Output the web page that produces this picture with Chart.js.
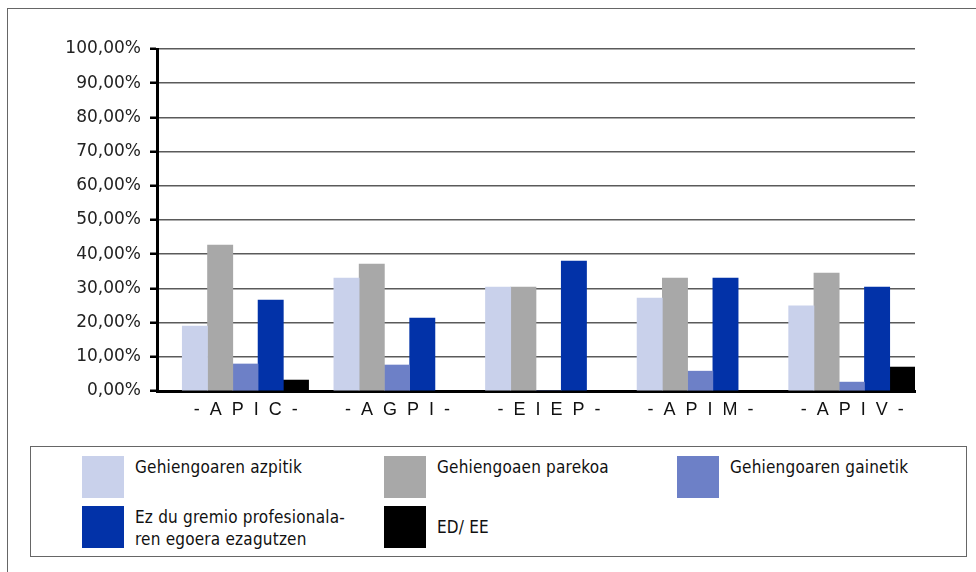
<!DOCTYPE html>
<html>
<head>
<meta charset="utf-8">
<script src="https://cdn.jsdelivr.net/npm/chart.js@4.4.1/dist/chart.umd.min.js"></script>
<style>
  body { margin: 0; background: #fff; overflow: hidden; width: 976px; height: 572px; }
  #frame { position: absolute; left: 7px; top: 8px; width: 1200px; height: 800px;
           border-left: 1px solid #666; border-top: 1px solid #666; }
  #chart { position: absolute; left: 0; top: 0; }
  #legend { position: absolute; left: 30px; top: 446px;
            border: 1px solid #666; box-sizing: content-box;
            display: grid; grid-template-columns: 302px 293px 293px; grid-auto-rows: 42px;
            row-gap: 8px; }
  .item { display: flex; align-items: flex-start;
          font-family: "DejaVu Sans Condensed", "DejaVu Sans", sans-serif; font-size: 17px;
          letter-spacing: 0.2px; color: #111; line-height: 22px; }
  .item.mid { align-items: center; }
  .sw { width: 42px; height: 42px; flex: none; margin-right: 11px; }
</style>
</head>
<body>
<div id="frame"></div>
<canvas id="chart" width="976" height="440"></canvas>
<div id="legend"></div>
<script>
var categories = ['-  A  P  I  C  -', '-  A  G  P  I  -', '-  E  I  E  P  -', '-  A  P  I  M  -', '-  A  P  I  V  -']

var seriesNames = ['Gehiengoaren azpitik', 'Gehiengoaen parekoa', 'Gehiengoaren gainetik',
                   'Ez du gremio profesionala-\nren egoera ezagutzen', 'ED/ EE']
var seriesColors = ['#c9d1eb', '#a8a8a8', '#6d80c7', '#0232a8', '#000000']

var azpitik  = [19.0, 33.0, 30.4, 27.2, 24.9]
var parekoa  = [42.7, 37.1, 30.4, 33.0, 34.5]
var gainetik = [7.9, 7.6, 0, 5.8, 2.6]
var ezdu     = [26.6, 21.3, 38.0, 33.0, 30.4]
var eded     = [3.2, 0, 0, 0, 7.0]

var yTicks = [0, 10, 20, 30, 40, 50, 60, 70, 80, 90, 100]

var seriesValues = [azpitik, parekoa, gainetik, ezdu, eded]

// empty slot so the bar group sits to the right of each category, like the original
var datasets = [{ label: '', data: categories.map(function(){ return null }), backgroundColor: 'rgba(0,0,0,0)' }]
seriesValues.forEach(function(vals, i){
    datasets.push({
        label: seriesNames[i],
        data: vals,
        backgroundColor: seriesColors[i],
        borderWidth: 0
    })
})

var ctx = document.getElementById('chart').getContext('2d')

new Chart(ctx, {
    type: 'bar',
    data: { labels: categories, datasets: datasets },
    options: {
        responsive: false,
        animation: false,
        devicePixelRatio: 1,
        layout: { padding: { left: 0, right: 61, top: 49, bottom: 0 } },
        datasets: { bar: { categoryPercentage: 1, barPercentage: 1 } },
        plugins: { legend: { display: false }, tooltip: { enabled: false } },
        scales: {
            x: {
                grid: { display: false, drawTicks: false },
                border: { display: true, color: '#000', width: 3 },
                ticks: {
                    padding: 8,
                    labelOffset: 13,
                    color: '#111',
                    maxRotation: 0,
                    autoSkip: false,
                    font: { family: 'Liberation Sans', size: 18 }
                },
                afterFit: function(scale){ scale.height = 49 }
            },
            y: {
                min: 0,
                max: 100,
                afterBuildTicks: function(scale){
                    scale.ticks = yTicks.map(function(v){ return { value: v } })
                },
                grid: {
                    color: '#5a5a5a',
                    lineWidth: 1.5,
                    tickColor: '#000',
                    tickLength: 7,
                    tickWidth: 2.5
                },
                border: { display: true, color: '#000', width: 3 },
                ticks: {
                    padding: 9,
                    color: '#222',
                    font: { family: 'DejaVu Sans', size: 17 },
                    callback: function(v){ return v.toFixed(2).replace('.', ',') + '%' }
                },
                afterFit: function(scale){ scale.width = 157 }
            }
        }
    }
})

// legend box, built from the series names and colours
var legend = document.getElementById('legend')
legend.style.paddingLeft = '51px'
legend.style.paddingTop = '9px'
legend.style.width = '884px'
legend.style.height = '100px'
seriesNames.forEach(function(name, i){
    var item = document.createElement('div')
    item.className = 'item' + (i == 4 ? ' mid' : '')
    var sw = document.createElement('div')
    sw.className = 'sw'
    sw.style.background = seriesColors[i]
    var txt = document.createElement('div')
    txt.innerHTML = name.replace('\n', '<br>')
    item.appendChild(sw)
    item.appendChild(txt)
    legend.appendChild(item)
})
</script>
</body>
</html>
